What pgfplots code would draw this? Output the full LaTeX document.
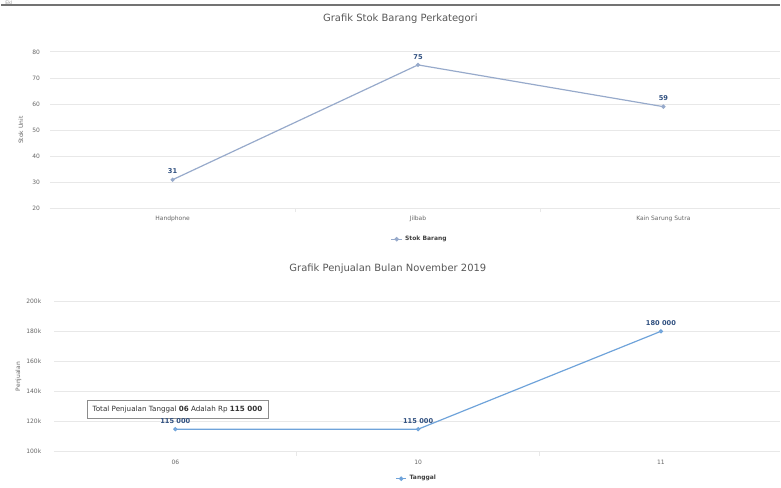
\documentclass[border=0pt]{standalone}
\usepackage{pgfplots}
\pgfplotsset{compat=1.18}
\usepackage{fontspec}
\setmainfont{DejaVu Sans}
\setsansfont{DejaVu Sans}

\definecolor{gridc}{HTML}{E8E8E8}
\definecolor{txt}{HTML}{666666}
\definecolor{lineA}{HTML}{97AACB}
\definecolor{lineB}{HTML}{6FA3DA}
\definecolor{lbl}{HTML}{2F4F7F}

\pgfplotsset{
  hc/.style={
    scale only axis,
    axis x line*=bottom, axis y line*=left,
    y axis line style={draw=none},
    x axis line style={gridc, line width=0.6pt},
    ymajorgrids, grid style={gridc, line width=0.6pt},
    xtick=data, major tick style={draw=none}, major tick length=0pt,
    minor xtick={0.5,1.5}, minor tick length=3pt,
    minor x tick style={gridc, line width=0.6pt}, tick align=outside,
    ticklabel style={font=\fontsize{4.5}{5}\selectfont, text=txt},
    /pgf/number format/assume math mode=true,
    ylabel style={font=\fontsize{4.5}{5}\selectfont, text=txt},
    title style={font=\fontsize{7.5}{9}\selectfont, text=txt!85!black},
    legend style={draw=none, fill=none, font=\bfseries\fontsize{4.5}{5}\selectfont,
      text=black!75, anchor=north, legend columns=1},
    legend image code/.code={
      \draw[#1, mark=none, line width=0.8pt] (0pt,0pt) -- (8pt,0pt);
      \fill[#1] (4pt,0pt) circle (1.2pt);},
    nodes near coords style={font=\bfseries\fontsize{5}{6}\selectfont, text=lbl, anchor=south, yshift=0.5pt},
    clip=false,
  }
}

\begin{document}
\begin{tikzpicture}
\path (0pt,0pt) rectangle (585.75pt,362.25pt);
\draw[black!55, line width=1.6pt] (0pt,358.5pt) -- (585.75pt,358.5pt);
\node[anchor=west, inner sep=0pt, font=\fontsize{3.5}{4}\selectfont, text=black!40] at (3pt,360.5pt) {Ekl};

% Stok per kategori
\begin{axis}[hc,
  at={(36.75pt,205.5pt)}, anchor=south west,
  width=549pt, height=117.75pt,
  xmin=-0.5, xmax=2.475, ymin=20, ymax=80,
  ytick={20,30,...,80},
  xticklabels={Handphone, Jilbab, Kain Sarung Sutra},
  ylabel={Stok Unit}, ylabel style={at={(rel axis cs:0,0.5)}, yshift=16.5pt},
  title={Grafik Stok Barang Perkategori},
  title style={at={(0.48,1)}, yshift=12pt},
  yticklabel style={xshift=-4pt},
  xticklabel style={yshift=-2pt},
  legend style={at={(0.507,-0.14)}},
]
\addplot[lineA, line width=0.9pt, mark=*, mark size=1.1pt, nodes near coords]
  coordinates {(0,31) (1,75) (2,59)};
\legend{Stok Barang}
\end{axis}

% Penjualan November
\begin{axis}[hc,
  at={(39.75pt,22.5pt)}, anchor=south west,
  width=546pt, height=113.25pt,
  xmin=-0.5, xmax=2.49, ymin=100000, ymax=200000,
  ytick={100000,120000,...,200000},
  yticklabels={100k,120k,140k,160k,180k,200k},
  scaled y ticks=false,
  xticklabels={06, 10, 11},
  ylabel={Penjualan}, ylabel style={at={(rel axis cs:0,0.5)}, yshift=21pt},
  title={Grafik Penjualan Bulan November 2019},
  title style={at={(0.46,1)}, yshift=11pt},
  yticklabel style={xshift=-6pt},
  xticklabel style={yshift=-3pt},
  legend style={at={(0.5,-0.12)}},
  point meta=explicit symbolic,
]
\addplot[lineB, line width=0.9pt, mark=*, mark size=1.1pt,
  mark options={fill=lineB!60!white}, nodes near coords]
  table[meta=lab, col sep=comma] {
x,y,lab
0,115000,115 000
1,115000,115 000
2,180000,180 000
};
\legend{Tanggal}
\node[draw=black!45, fill=white, fill opacity=0.92, text opacity=1, line width=0.5pt,
  inner sep=4.3pt, font=\fontsize{5.4}{6}\selectfont, text=black!80, anchor=south west]
  at (rel axis cs:0.045,0.22)
  {Total Penjualan Tanggal \textbf{06} Adalah Rp \textbf{115 000}};
\end{axis}
\end{tikzpicture}
\end{document}
